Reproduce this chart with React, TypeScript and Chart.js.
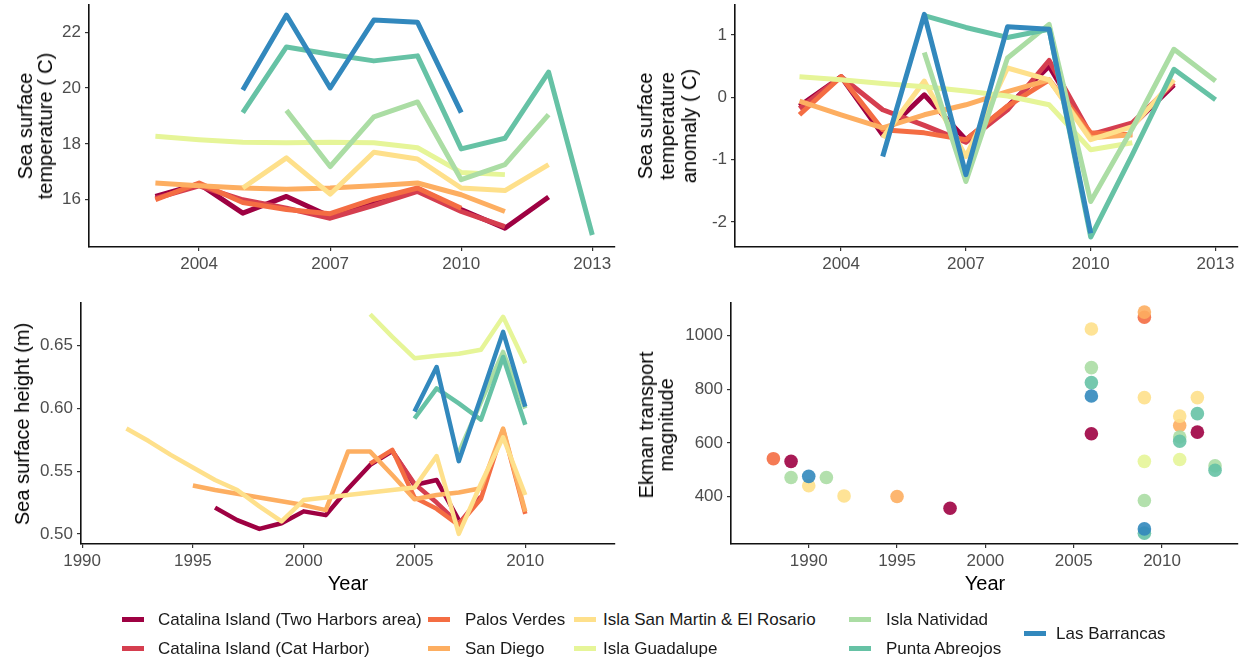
import React, { useEffect, useRef } from "react";
import { Chart, registerables } from "chart.js";
Chart.register(...registerables);

const FONT = "'Liberation Sans', Arial, Helvetica, sans-serif";

const SITES = [
  "Catalina Island (Two Harbors area)",
  "Catalina Island (Cat Harbor)",
  "Palos Verdes",
  "San Diego",
  "Isla San Martin & El Rosario",
  "Isla Guadalupe",
  "Isla Natividad",
  "Punta Abreojos",
  "Las Barrancas",
];
const COLORS = ["#9E0142", "#D53E4F", "#F46D43", "#FDAE61", "#FEE08B", "#E6F598", "#ABDDA4", "#66C2A5", "#3288BD"];

// ---- Panel A: sea surface temperature (C) ----
const SST_YEARS = [2003, 2004, 2005, 2006, 2007, 2008, 2009, 2010, 2011, 2012, 2013];
const SST_TWO_HARBORS = [16.12, 16.57, 15.52, 16.12, 15.4, 15.88, 16.4, 15.65, 14.98, 16.1, null];
const SST_CAT_HARBOR = [16.05, 16.5, 16.0, 15.7, 15.34, 15.8, 16.3, 15.58, 15.04, null, null];
const SST_PALOS_VERDES = [16.0, 16.6, 15.9, 15.65, 15.5, 16.02, 16.42, 15.7, null, null, null];
const SST_SAN_DIEGO = [16.6, 16.5, 16.42, 16.38, 16.42, 16.5, 16.6, 16.18, 15.58, null, null];
const SST_SAN_MARTIN = [null, null, 16.42, 17.5, 16.2, 17.7, 17.46, 16.42, 16.33, 17.26, null];
const SST_GUADALUPE = [18.27, 18.15, 18.06, 18.04, 18.06, 18.04, 17.86, 16.98, 16.9, null, null];
const SST_NATIVIDAD = [null, null, null, 19.2, 17.19, 18.97, 19.5, 16.72, 17.26, 19.05, null];
const SST_PUNTA_ABREOJOS = [null, null, 19.12, 21.47, 21.21, 20.97, 21.15, 17.82, 18.2, 20.57, 14.74];
const SST_LAS_BARRANCAS = [null, null, 19.93, 22.61, 20.0, 22.43, 22.35, 19.12, null, null, null];
const SST_X_TICKS = [2004, 2007, 2010, 2013];
const SST_Y_TICKS = [16, 18, 20, 22];

// ---- Panel B: sea surface temperature anomaly (C) ----
const SSTA_YEARS = [2003, 2004, 2005, 2006, 2007, 2008, 2009, 2010, 2011, 2012, 2013];
const SSTA_TWO_HARBORS = [-0.14, 0.33, -0.6, 0.04, -0.68, -0.15, 0.5, -0.62, -0.45, 0.2, null];
const SSTA_CAT_HARBOR = [-0.18, 0.33, -0.2, -0.45, -0.72, -0.2, 0.59, -0.6, -0.41, 0.23, null];
const SSTA_PALOS_VERDES = [-0.28, 0.33, -0.52, -0.57, -0.68, -0.14, 0.28, -0.57, -0.6, null, null];
const SSTA_SAN_DIEGO = [-0.06, -0.28, -0.49, -0.28, -0.12, 0.09, 0.28, -0.65, -0.6, null, null];
const SSTA_SAN_MARTIN = [null, null, -0.65, 0.26, -0.95, 0.47, 0.28, -0.68, -0.47, 0.28, null];
const SSTA_GUADALUPE = [0.33, 0.28, 0.22, 0.17, 0.1, 0.02, -0.12, -0.84, -0.73, null, null];
const SSTA_NATIVIDAD = [null, null, null, 0.72, -1.35, 0.63, 1.17, -1.67, -0.5, 0.77, 0.26];
const SSTA_PUNTA_ABREOJOS = [null, null, null, 1.31, 1.12, 0.96, 1.09, -2.24, -0.92, 0.45, -0.04];
const SSTA_LAS_BARRANCAS = [null, null, -0.95, 1.33, -1.24, 1.13, 1.09, -2.18, null, null, null];
const SSTA_X_TICKS = [2004, 2007, 2010, 2013];
const SSTA_Y_TICKS = [-2, -1, 0, 1];

// ---- Panel C: sea surface height (m) ----
const SSH_YEARS = [1992, 1993, 1994, 1995, 1996, 1997, 1998, 1999, 2000, 2001, 2002, 2003, 2004, 2005, 2006, 2007, 2008, 2009, 2010];
const SSH_TWO_HARBORS = [null, null, null, null, 0.521, 0.511, 0.504, 0.5085, 0.518, 0.515, 0.536, 0.555, 0.566, 0.539, 0.543, 0.511, null, null, null];
const SSH_CAT_HARBOR = [null, null, null, null, null, null, null, null, null, null, null, null, 0.566, 0.54, 0.525, 0.508, 0.53, null, null];
const SSH_PALOS_VERDES = [null, null, null, null, null, null, null, null, null, null, null, 0.556, 0.567, 0.529, 0.52, 0.507, 0.528, 0.583, 0.516];
const SSH_SAN_DIEGO = [null, null, null, 0.5386, 0.535, 0.532, 0.529, 0.526, 0.523, 0.519, 0.5656, 0.5656, 0.547, 0.5277, 0.531, 0.533, 0.5364, 0.584, 0.5178];
const SSH_SAN_MARTIN = [0.584, 0.574, 0.563, 0.553, 0.543, 0.535, 0.522, 0.51, 0.527, 0.529, 0.531, 0.533, 0.535, 0.537, 0.562, 0.5, 0.54, 0.577, 0.531];
const SSH_GUADALUPE = [null, null, null, null, null, null, null, null, null, null, null, 0.675, 0.657, 0.64, 0.642, 0.6435, 0.6467, 0.673, 0.636];
const SSH_NATIVIDAD = [null, null, null, null, null, null, null, null, null, null, null, null, null, null, null, 0.565, 0.605, 0.645, 0.6];
const SSH_PUNTA_ABREOJOS = [null, null, null, null, null, null, null, null, null, null, null, null, null, 0.592, 0.616, 0.604, 0.591, 0.641, 0.587];
const SSH_LAS_BARRANCAS = [null, null, null, null, null, null, null, null, null, null, null, null, null, 0.5975, 0.633, 0.558, 0.609, 0.661, 0.6015];
const SSH_X_TICKS = [1990, 1995, 2000, 2005, 2010];
const SSH_Y_TICKS = [0.5, 0.55, 0.6, 0.65];

// ---- Panel D: Ekman transport magnitude (points: [year, value]) ----
const EK_TWO_HARBORS = [[1989, 531], [1998, 356], [2006, 634], [2012, 640]];
const EK_CAT_HARBOR: number[][] = [];
const EK_PALOS_VERDES = [[1988, 541], [2009, 1069]];
const EK_SAN_DIEGO = [[1995, 400], [2009, 1088], [2011, 665]];
const EK_SAN_MARTIN = [[1990, 440], [1992, 402], [2006, 1025], [2009, 769], [2011, 700], [2012, 769]];
const EK_GUADALUPE = [[2009, 531], [2011, 538]];
const EK_NATIVIDAD = [[1989, 471], [1991, 471], [2006, 881], [2009, 385], [2011, 622], [2013, 514]];
const EK_PUNTA_ABREOJOS = [[2006, 825], [2009, 263], [2011, 606], [2012, 709], [2013, 498]];
const EK_LAS_BARRANCAS = [[1990, 475], [2006, 775], [2009, 279]];
const EK_X_TICKS = [1990, 1995, 2000, 2005, 2010];
const EK_Y_TICKS = [400, 600, 800, 1000];

const SST_SERIES = [SST_TWO_HARBORS, SST_CAT_HARBOR, SST_PALOS_VERDES, SST_SAN_DIEGO, SST_SAN_MARTIN, SST_GUADALUPE, SST_NATIVIDAD, SST_PUNTA_ABREOJOS, SST_LAS_BARRANCAS];
const SSTA_SERIES = [SSTA_TWO_HARBORS, SSTA_CAT_HARBOR, SSTA_PALOS_VERDES, SSTA_SAN_DIEGO, SSTA_SAN_MARTIN, SSTA_GUADALUPE, SSTA_NATIVIDAD, SSTA_PUNTA_ABREOJOS, SSTA_LAS_BARRANCAS];
const SSH_SERIES = [SSH_TWO_HARBORS, SSH_CAT_HARBOR, SSH_PALOS_VERDES, SSH_SAN_DIEGO, SSH_SAN_MARTIN, SSH_GUADALUPE, SSH_NATIVIDAD, SSH_PUNTA_ABREOJOS, SSH_LAS_BARRANCAS];
const EK_SERIES = [EK_TWO_HARBORS, EK_CAT_HARBOR, EK_PALOS_VERDES, EK_SAN_DIEGO, EK_SAN_MARTIN, EK_GUADALUPE, EK_NATIVIDAD, EK_PUNTA_ABREOJOS, EK_LAS_BARRANCAS];

type Cfg = {
  xmin: number; xmax: number; xticks: number[];
  ymin: number; ymax: number; yticks: number[]; ydec: number;
  yWidth: number; xHeight: number; padTop: number; padRight: number;
};

function makeOptions(c: Cfg): any {
  const tickFont = { family: FONT, size: 17 };
  return {
    animation: false,
    responsive: false,
    maintainAspectRatio: false,
    layout: { padding: { top: c.padTop, right: c.padRight, bottom: 0, left: 0 } },
    plugins: { legend: { display: false }, tooltip: { enabled: false } },
    scales: {
      x: {
        type: "linear",
        min: c.xmin, max: c.xmax, bounds: "data",
        afterBuildTicks: (axis: any) => { axis.ticks = c.xticks.map((v) => ({ value: v })); },
        afterFit: (s: any) => { s.height = c.xHeight; s.paddingLeft = 0; s.paddingRight = 0; s.paddingTop = 0; s.paddingBottom = 0; },
        ticks: { font: tickFont, color: "#4D4D4D", padding: 3, maxRotation: 0, autoSkip: false, callback: (v: any) => String(v) },
        grid: { display: true, drawOnChartArea: false, drawTicks: true, tickLength: 4, color: "#333333", lineWidth: 1.2 },
        border: { display: true, color: "#111111", width: 1.6 },
      },
      y: {
        type: "linear",
        min: c.ymin, max: c.ymax, bounds: "data",
        afterBuildTicks: (axis: any) => { axis.ticks = c.yticks.map((v) => ({ value: v })); },
        afterFit: (s: any) => { s.width = c.yWidth; s.paddingTop = 0; s.paddingBottom = 0; s.paddingLeft = 0; s.paddingRight = 0; },
        ticks: { font: tickFont, color: "#4D4D4D", padding: 4, autoSkip: false, callback: (v: any) => Number(v).toFixed(c.ydec) },
        grid: { display: true, drawOnChartArea: false, drawTicks: true, tickLength: 4, color: "#333333", lineWidth: 1.2 },
        border: { display: true, color: "#111111", width: 1.6 },
      },
    },
  };
}

function lineDatasets(years: number[], series: (number | null)[][], width: number) {
  return series.map((vals, i) => ({
    label: SITES[i],
    data: years.map((yr, k) => ({ x: yr, y: vals[k] })).filter((p) => p.y !== null),
    borderColor: COLORS[i],
    backgroundColor: COLORS[i],
    borderWidth: width,
    pointRadius: 0,
    tension: 0,
    borderJoinStyle: "round",
    borderCapStyle: "butt",
    fill: false,
    order: 20 - i,
  }));
}

function pointDatasets(series: number[][][]) {
  return series.map((pts, i) => ({
    label: SITES[i],
    data: pts.map((p) => ({ x: p[0], y: p[1] })),
    backgroundColor: COLORS[i] + "E6",
    borderWidth: 0,
    pointRadius: 6.8,
    showLine: false,
    order: 20 - i,
  }));
}

function Panel(props: { left: number; top: number; width: number; height: number; build: () => any }) {
  const ref = useRef<HTMLCanvasElement>(null);
  useEffect(() => {
    const chart = new Chart(ref.current as HTMLCanvasElement, props.build());
    return () => chart.destroy();
  }, []);
  return (
    <canvas
      ref={ref}
      width={props.width}
      height={props.height}
      style={{ position: "absolute", left: props.left, top: props.top, width: props.width, height: props.height }}
    />
  );
}

function VTitle(props: { x: number; y: number; lines: string[]; lh: number }) {
  return (
    <div
      style={{
        position: "absolute", left: props.x, top: props.y,
        transform: "translate(-50%, -50%) rotate(-90deg)",
        fontFamily: FONT, fontSize: 20, lineHeight: props.lh + "px", color: "#000",
        textAlign: "center", whiteSpace: "pre",
      }}
    >
      {props.lines.join("\n")}
    </div>
  );
}

function HText(props: { x: number; y: number; text: string; size: number; color: string; anchor?: string }) {
  return (
    <div
      style={{
        position: "absolute", left: props.x, top: props.y,
        transform: props.anchor === "start" ? "translate(0, -50%)" : "translate(-50%, -50%)",
        fontFamily: FONT, fontSize: props.size, lineHeight: "1", color: props.color, whiteSpace: "pre",
      }}
    >
      {props.text}
    </div>
  );
}

const LEGEND_KEY_X = [122, 122, 428, 428, 574, 574, 849, 849, 1024];
const LEGEND_TEXT_X = [158, 158, 465, 465, 603, 603, 886, 886, 1056];
const LEGEND_Y = [619, 648, 619, 648, 619, 648, 619, 648, 633];

export default function App() {
  return (
    <div style={{ position: "absolute", left: 0, top: 0, width: 1253, height: 661, background: "#fff", overflow: "hidden" }}>
      <Panel left={0} top={0} width={630} height={280} build={() => ({
        type: "line",
        data: { datasets: lineDatasets(SST_YEARS, SST_SERIES, 5) },
        options: makeOptions({ xmin: 2001.48, xmax: 2013.52, xticks: SST_X_TICKS, ymin: 14.31, ymax: 22.97, yticks: SST_Y_TICKS, ydec: 0, yWidth: 89, xHeight: 33, padTop: 5, padRight: 15 }),
      })} />
      <Panel left={630} top={0} width={623} height={280} build={() => ({
        type: "line",
        data: { datasets: lineDatasets(SSTA_YEARS, SSTA_SERIES, 5) },
        options: makeOptions({ xmin: 2001.45, xmax: 2013.54, xticks: SSTA_X_TICKS, ymin: -2.4, ymax: 1.48, yticks: SSTA_Y_TICKS, ydec: 0, yWidth: 105, xHeight: 33, padTop: 5, padRight: 15 }),
      })} />
      <Panel left={0} top={290} width={630} height={310} build={() => ({
        type: "line",
        data: { datasets: lineDatasets(SSH_YEARS, SSH_SERIES, 4.5) },
        options: makeOptions({ xmin: 1989.95, xmax: 2014.05, xticks: SSH_X_TICKS, ymin: 0.492, ymax: 0.684, yticks: SSH_Y_TICKS, ydec: 2, yWidth: 81, xHeight: 56, padTop: 13, padRight: 15 }),
      })} />
      <Panel left={630} top={290} width={623} height={310} build={() => ({
        type: "scatter",
        data: { datasets: pointDatasets(EK_SERIES) },
        options: makeOptions({ xmin: 1985.6, xmax: 2014.3, xticks: EK_X_TICKS, ymin: 222.6, ymax: 1122, yticks: EK_Y_TICKS, ydec: 0, yWidth: 101, xHeight: 56, padTop: 13, padRight: 15 }),
      })} />

      <VTitle x={35} y={126} lines={["Sea surface", "temperature ( C)"]} lh={20} />
      <VTitle x={667} y={126} lines={["Sea surface", "temperature", "anomaly ( C)"]} lh={22} />
      <VTitle x={22} y={424} lines={["Sea surface height (m)"]} lh={22} />
      <VTitle x={656} y={425} lines={["Ekman transport", "magnitude"]} lh={20} />
      <HText x={348} y={583} text="Year" size={20} color="#000" />
      <HText x={985} y={583} text="Year" size={20} color="#000" />

      {SITES.map((s, i) => (
        <React.Fragment key={s}>
          <div style={{ position: "absolute", left: LEGEND_KEY_X[i], top: LEGEND_Y[i] - 2.5, width: 22, height: 5, background: COLORS[i] }} />
          <HText x={LEGEND_TEXT_X[i]} y={LEGEND_Y[i]} text={s} size={17} color="#1a1a1a" anchor="start" />
        </React.Fragment>
      ))}
    </div>
  );
}
